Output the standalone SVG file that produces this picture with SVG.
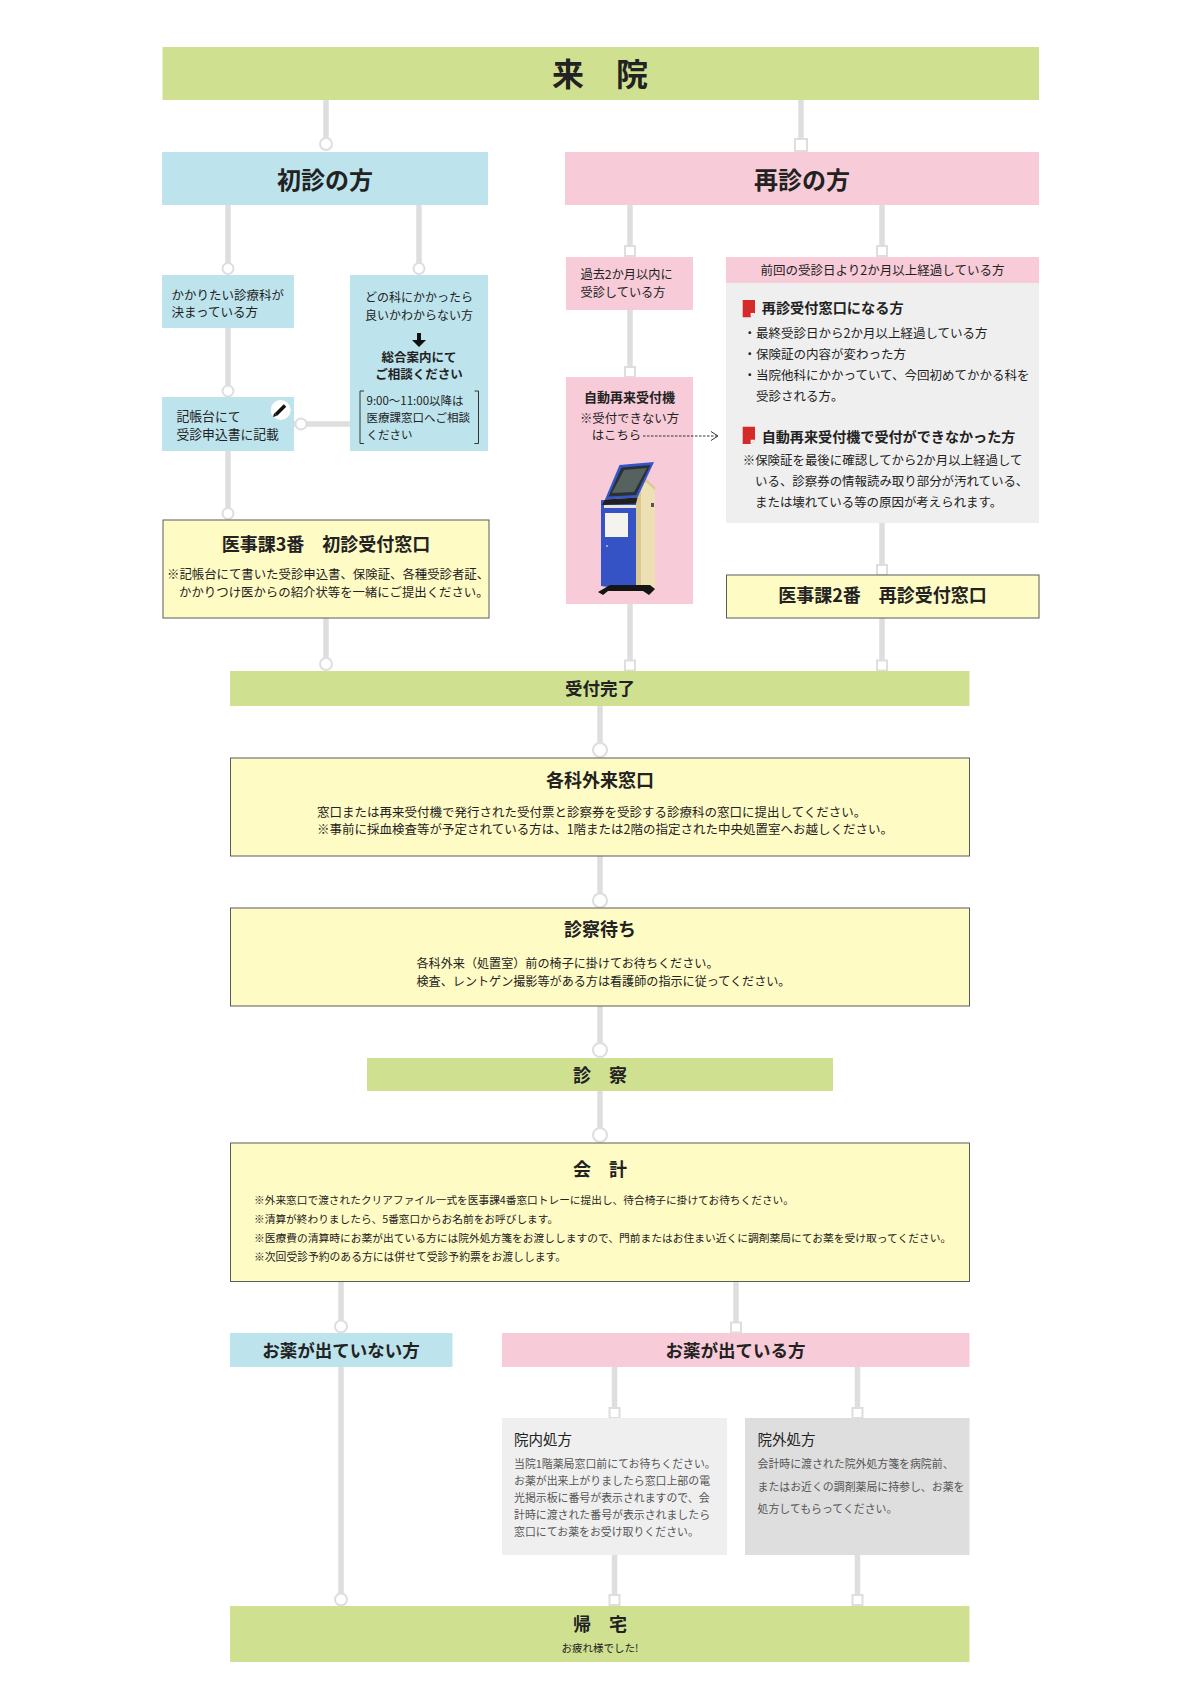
<svg xmlns="http://www.w3.org/2000/svg" width="1200" height="1699" viewBox="0 0 1200 1699">
<style>
.c{stroke:#dedede;stroke-width:5.5;fill:none}
.dot{fill:#fff;stroke:#dedede;stroke-width:2}
.g{fill:#cfe191}
.bl{fill:#bde3ec}
.pk{fill:#f7cbd8}
.gy{fill:#efefef}
.gy2{fill:#dedede}
.yl{fill:#fffbc5;stroke:#5a5a5a;stroke-width:1}
text{font-family:"Noto Sans CJK JP","Noto Sans",sans-serif;fill:#222}
.b{font-weight:700}
.m{text-anchor:middle}
.s{fill:#555}
.br{fill:none;stroke:#333;stroke-width:1}
</style>
<rect width="1200" height="1699" fill="#fff"/>

<g id="connectors">
<line class="c" x1="326" y1="100" x2="326" y2="145"/>
<line class="c" x1="801" y1="100" x2="801" y2="145"/>
<line class="c" x1="228" y1="205" x2="228" y2="270"/>
<line class="c" x1="419" y1="205" x2="419" y2="270"/>
<line class="c" x1="228" y1="328" x2="228" y2="392"/>
<line class="c" x1="294" y1="424" x2="350" y2="424"/>
<line class="c" x1="228" y1="451" x2="228" y2="514"/>
<line class="c" x1="630" y1="205" x2="630" y2="251"/>
<line class="c" x1="882" y1="205" x2="882" y2="251"/>
<line class="c" x1="630" y1="310" x2="630" y2="372"/>
<line class="c" x1="882" y1="523" x2="882" y2="570"/>
<line class="c" x1="326" y1="618" x2="326" y2="664"/>
<line class="c" x1="630" y1="604" x2="630" y2="665"/>
<line class="c" x1="882" y1="618" x2="882" y2="665"/>
<line class="c" x1="600" y1="706" x2="600" y2="750"/>
<line class="c" x1="600" y1="856" x2="600" y2="901"/>
<line class="c" x1="600" y1="1006" x2="600" y2="1050"/>
<line class="c" x1="600" y1="1091" x2="600" y2="1135"/>
<line class="c" x1="341" y1="1281" x2="341" y2="1327"/>
<line class="c" x1="736" y1="1281" x2="736" y2="1328"/>
<line class="c" x1="614.5" y1="1367" x2="614.5" y2="1413"/>
<line class="c" x1="857.5" y1="1367" x2="857.5" y2="1413"/>
<line class="c" x1="341" y1="1367" x2="341" y2="1599"/>
<line class="c" x1="614.5" y1="1555" x2="614.5" y2="1600"/>
<line class="c" x1="857.5" y1="1555" x2="857.5" y2="1600"/>
<circle class="dot" cx="326" cy="144" r="6"/>
<rect class="dot" x="795" y="139" width="12" height="12"/>
<circle class="dot" cx="228" cy="268.5" r="5.5"/>
<circle class="dot" cx="419" cy="268.5" r="5.5"/>
<circle class="dot" cx="228" cy="391" r="5.5"/>
<circle class="dot" cx="301" cy="424" r="5.5"/>
<circle class="dot" cx="228" cy="513.5" r="5.5"/>
<rect class="dot" x="625" y="246" width="10" height="10"/>
<rect class="dot" x="877" y="246" width="10" height="10"/>
<rect class="dot" x="625" y="367" width="10" height="10"/>
<rect class="dot" x="877" y="565" width="10" height="10"/>
<circle class="dot" cx="326" cy="664" r="6"/>
<rect class="dot" x="625" y="660.5" width="10" height="10"/>
<rect class="dot" x="877" y="660.5" width="10" height="10"/>
<circle class="dot" cx="600" cy="750" r="7"/>
<circle class="dot" cx="600" cy="900.5" r="7"/>
<circle class="dot" cx="600" cy="1050" r="7"/>
<circle class="dot" cx="600" cy="1135" r="7"/>
<circle class="dot" cx="341" cy="1326.5" r="6"/>
<rect class="dot" x="731" y="1322.5" width="10" height="10"/>
<rect class="dot" x="609.5" y="1408" width="10" height="10"/>
<rect class="dot" x="852.5" y="1408" width="10" height="10"/>
<circle class="dot" cx="341" cy="1599.5" r="6"/>
<rect class="dot" x="609.5" y="1595" width="10" height="10"/>
<rect class="dot" x="852.5" y="1595" width="10" height="10"/>
</g>

<g id="raiin">
<rect class="g" x="162.5" y="47" width="876.5" height="53"/>
<text class="b m" x="600" y="86" font-size="32">来　院</text>
</g>

<g id="shoshin">
<rect class="bl" x="162" y="152" width="326" height="53"/>
<text class="b m" x="325" y="188.5" font-size="24">初診の方</text>
</g>

<g id="saishin">
<rect class="pk" x="565" y="152" width="474" height="53"/>
<text class="b m" x="802" y="188.5" font-size="24">再診の方</text>
</g>

<g id="kimatte">
<rect class="bl" x="162" y="275" width="132" height="53"/>
<text x="171.5" y="300" font-size="12.5">かかりたい診療科が</text>
<text x="171.5" y="317" font-size="12.5">決まっている方</text>
</g>

<g id="donoka">
<rect class="bl" x="350" y="275" width="138" height="176"/>
<text class="m" x="419" y="302" font-size="12">どの科にかかったら</text>
<text class="m" x="419" y="319.5" font-size="12">良いかわからない方</text>
<path d="M417,333 h4 v7 h5 l-7,7 l-7,-7 h5 z" fill="#111"/>
<text class="b m" x="419" y="362" font-size="12.5">総合案内にて</text>
<text class="b m" x="419" y="379" font-size="12.5">ご相談ください</text>
<path class="br" d="M364,391 h-4 v52.5 h4 M474.5,391 h4 v52.5 h-4"/>
<text x="366.5" y="405" font-size="11.5">9:00〜11:00以降は</text>
<text x="366.5" y="422" font-size="11.5">医療課窓口へご相談</text>
<text x="366.5" y="438.5" font-size="11.5">ください</text>
</g>

<g id="kichoudai">
<rect class="bl" x="162" y="397" width="132" height="54"/>
<text x="176.5" y="421" font-size="12.8">記帳台にて</text>
<text x="176.5" y="438.5" font-size="12.8">受診申込書に記載</text>
<circle cx="280.7" cy="410" r="10" fill="#fff"/>
<line x1="276" y1="414.5" x2="285" y2="405.5" stroke="#111" stroke-width="3.6"/>
<path d="M274.2,413 l2.8,2.8 l-4,1.2 z" fill="#111"/>
</g>

<g id="iji3">
<rect class="yl" x="163" y="520" width="326" height="98"/>
<text class="b m" x="326" y="551" font-size="18">医事課3番　初診受付窓口</text>
<text x="167" y="579" font-size="12.4">※記帳台にて書いた受診申込書、保険証、各種受診者証、</text>
<text x="179" y="597" font-size="12.4">かかりつけ医からの紹介状等を一緒にご提出ください。</text>
</g>

<g id="kako">
<rect class="pk" x="566" y="257" width="127" height="53"/>
<text x="580.5" y="279.3" font-size="12.2">過去2か月以内に</text>
<text x="580.5" y="297.3" font-size="12.2">受診している方</text>
</g>

<g id="zenkai">
<rect class="gy" x="726" y="283" width="313" height="240"/>
<rect class="pk" x="726" y="257" width="313" height="26"/>
<text class="m" x="882.5" y="274.5" font-size="12.5">前回の受診日より2か月以上経過している方</text>
<path d="M742.7,300 h12.3 v13 l-4.3,4.3 h-8 z" fill="#d42a2a"/>
<path d="M755,313 l-4.3,4.3 v-4.3 z" fill="#fff"/>
<text class="b" x="761.7" y="313.3" font-size="14.2">再診受付窓口になる方</text>
<text x="743.5" y="337.7" font-size="12.5">・最終受診日から2か月以上経過している方</text>
<text x="743.5" y="359" font-size="12.5">・保険証の内容が変わった方</text>
<text x="743.5" y="380" font-size="12.5">・当院他科にかかっていて、今回初めてかかる科を</text>
<text x="756" y="401" font-size="12.5">受診される方。</text>
<path d="M742.7,426.7 h12.3 v13 l-4.3,4.3 h-8 z" fill="#d42a2a"/>
<path d="M755,439.7 l-4.3,4.3 v-4.3 z" fill="#fff"/>
<text class="b" x="761.7" y="441.7" font-size="14.1">自動再来受付機で受付ができなかった方</text>
<text x="742.7" y="465" font-size="12.45">※保険証を最後に確認してから2か月以上経過して</text>
<text x="755" y="486" font-size="12.45">いる、診察券の情報読み取り部分が汚れている、</text>
<text x="755" y="506.7" font-size="12.45">または壊れている等の原因が考えられます。</text>
</g>

<g id="kiosk">
<rect class="pk" x="566" y="377" width="127" height="227"/>
<text class="b m" x="629.5" y="401.7" font-size="13">自動再来受付機</text>
<text class="m" x="629.5" y="422.7" font-size="12.4">※受付できない方</text>
<text x="591.7" y="440" font-size="12.4">はこちら</text>
<line x1="643" y1="436" x2="717" y2="436" stroke="#333" stroke-width="1" stroke-dasharray="2.5,1.5"/>
<path d="M711,431.5 L718,436 L711,440.5" fill="none" stroke="#333" stroke-width="1"/>
<path d="M636,470 L655,487 L655,588 L636,591 Z" fill="#dcc98f"/>
<path d="M641,478 L655,490 L655,588 L641,590 Z" fill="#ece0b4"/>
<rect x="651" y="503" width="3" height="4" fill="#555"/>
<path d="M601,500 L636,500 L636,591 L601,586 Z" fill="#3553c4"/>
<rect x="605" y="513" width="23" height="24" fill="#f4f3ee"/>
<circle cx="607" cy="546" r="0.9" fill="#ccd"/>
<path d="M619.5,465 L654,462 L637.5,497.5 L605,499.5 Z" fill="#3356c8"/>
<path d="M621.5,467.5 L650.5,465 L636,495 L608.5,496.5 Z" fill="#2b3034"/>
<path d="M624,470 L647,468 L634,492 L612,493 Z" fill="#56625f"/>
<path d="M605,499.5 L637.5,497.5 L636,503.5 L602,505 Z" fill="#1f1f1f"/>
<rect x="604" y="505" width="32" height="3" fill="#e8e4d8"/>
<path d="M598,592 L610,585 L650,585 L655,589 L649,595 L643,591 L608,591 L603,595 Z" fill="#151515"/>
</g>

<g id="iji2">
<rect class="yl" x="726.5" y="575" width="312.5" height="43"/>
<text class="b m" x="882.5" y="602" font-size="18">医事課2番　再診受付窓口</text>
</g>

<g id="uketsuke">
<rect class="g" x="230" y="671" width="739.5" height="35"/>
<text class="b m" x="600" y="695" font-size="17.5">受付完了</text>
</g>

<g id="kakuka">
<rect class="yl" x="230.5" y="758" width="739" height="98"/>
<text class="b m" x="600" y="787" font-size="18">各科外来窓口</text>
<text x="317" y="816.5" font-size="12.5">窓口または再来受付機で発行された受付票と診察券を受診する診療科の窓口に提出してください。</text>
<text x="317" y="834" font-size="12.5">※事前に採血検査等が予定されている方は、1階または2階の指定された中央処置室へお越しください。</text>
</g>

<g id="machi">
<rect class="yl" x="230.5" y="908" width="739" height="98"/>
<text class="b m" x="600" y="935.5" font-size="18">診察待ち</text>
<text x="416.5" y="968.3" font-size="12.1">各科外来（処置室）前の椅子に掛けてお待ちください。</text>
<text x="416.5" y="986" font-size="12.1">検査、レントゲン撮影等がある方は看護師の指示に従ってください。</text>
</g>

<g id="shinsatsu">
<rect class="g" x="367" y="1058" width="466" height="33"/>
<text class="b m" x="600" y="1082" font-size="18">診　察</text>
</g>

<g id="kaikei">
<rect class="yl" x="230.5" y="1143" width="739" height="138.5"/>
<text class="b m" x="600" y="1175.5" font-size="18">会　計</text>
<text x="254" y="1204" font-size="10.7">※外来窓口で渡されたクリアファイル一式を医事課4番窓口トレーに提出し、待合椅子に掛けてお待ちください。</text>
<text x="254" y="1223" font-size="10.7">※清算が終わりましたら、5番窓口からお名前をお呼びします。</text>
<text x="254" y="1242" font-size="10.75">※医療費の清算時にお薬が出ている方には院外処方箋をお渡ししますので、門前またはお住まい近くに調剤薬局にてお薬を受け取ってください。</text>
<text x="254" y="1261" font-size="10.8">※次回受診予約のある方には併せて受診予約票をお渡しします。</text>
</g>

<g id="nashi">
<rect class="bl" x="230" y="1333" width="222.5" height="34"/>
<text class="b m" x="341" y="1356.5" font-size="17.5">お薬が出ていない方</text>
</g>

<g id="ari">
<rect class="pk" x="502" y="1333" width="467.5" height="34"/>
<text class="b m" x="735.5" y="1356.5" font-size="17.5">お薬が出ている方</text>
</g>

<g id="innai">
<rect class="gy" x="502" y="1418" width="225" height="137"/>
<text x="514" y="1445" font-size="14.5">院内処方</text>
<text class="s" x="514" y="1468.3" font-size="10.9">当院1階薬局窓口前にてお待ちください。</text>
<text class="s" x="514" y="1485" font-size="10.9">お薬が出来上がりましたら窓口上部の電</text>
<text class="s" x="514" y="1501.7" font-size="10.9">光掲示板に番号が表示されますので、会</text>
<text class="s" x="514" y="1519" font-size="10.9">計時に渡された番号が表示されましたら</text>
<text class="s" x="514" y="1535.7" font-size="10.9">窓口にてお薬をお受け取りください。</text>
</g>

<g id="ingai">
<rect class="gy2" x="745" y="1418" width="224.5" height="137"/>
<text x="757.5" y="1445" font-size="14.5">院外処方</text>
<text class="s" x="757.5" y="1468.3" font-size="10.9">会計時に渡された院外処方箋を病院前、</text>
<text class="s" x="757.5" y="1490.7" font-size="10.9">またはお近くの調剤薬局に持参し、お薬を</text>
<text class="s" x="757.5" y="1513.3" font-size="10.9">処方してもらってください。</text>
</g>

<g id="kitaku">
<rect class="g" x="230" y="1606" width="739.5" height="56"/>
<text class="b m" x="600" y="1631" font-size="18">帰　宅</text>
<text class="m" x="600" y="1651.7" font-size="10.5">お疲れ様でした!</text>
</g>
</svg>
